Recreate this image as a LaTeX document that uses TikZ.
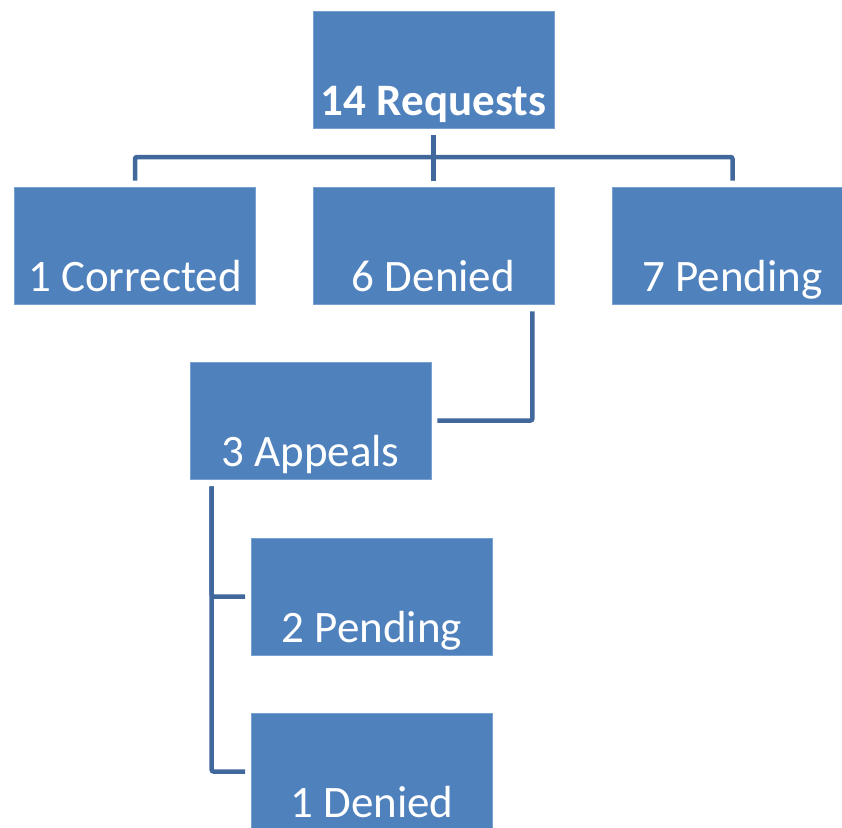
\documentclass[tikz,border=0pt]{standalone}
\usepackage{fontspec}
\setmainfont{Carlito}
\usepackage{tikz}
\usetikzlibrary{positioning, calc}
\definecolor{cBox}{RGB}{79,129,189}
\definecolor{cEdge}{RGB}{120,160,208}
\definecolor{cLine}{RGB}{65,104,156}
\tikzset{
	orgbox/.style ={rectangle, draw=cEdge, line width=0.8pt, fill=cBox, text=white, minimum width=241pt, minimum height=117pt, inner sep=0pt, text height=104pt, text depth=13pt, align=center, font=\fontsize{45}{54}\selectfont},
	topbox/.style ={orgbox, font=\fontsize{45}{54}\selectfont\bfseries},
	conn/.style   ={cLine, line width=4.5pt, rounded corners=2pt},
}
\begin{document}
\begin{tikzpicture}[x=1pt, y=-1pt]
	\useasboundingbox (0,0) rectangle (842,827);
	\clip (0,0) rectangle (842,827);
	% boxes
	\node[topbox] (req) at (433.5,70) {14 Requests};
	\node[orgbox] (cor) at (135,245.5) {1 Corrected};
	\node[orgbox] (den) at (433.5,245.5) {6 Denied};
	\node[orgbox] (pen) at (732.5,245.5) {7 Pending};
	\node[orgbox] (app) at (310.5,420.5) {3 Appeals};
	\node[orgbox] (apppen) at (372,596.5) {2 Pending};
	\node[orgbox] (appden) at (372,771.5) {1 Denied};
	% top level connectors
	\coordinate (bus) at (433.5,157);
	\draw[conn] ([yshift=-6pt]req.south) -- ([yshift=6pt]den.north);
	\draw[conn] ([yshift=6pt]cor.north) |- (bus) -| ([yshift=6pt]pen.north);
	% denied to appeals
	\draw[conn] ([xshift=-22pt,yshift=-7pt]den.south east) |- ([xshift=6pt]app.east);
	% appeals to outcomes
	\draw[conn] ([xshift=22pt,yshift=-7pt]app.south west) |- ([xshift=-6pt]apppen.west);
	\draw[conn] ([xshift=22pt,yshift=-7pt]app.south west) |- ([xshift=-6pt]appden.west);
\end{tikzpicture}
\end{document}
